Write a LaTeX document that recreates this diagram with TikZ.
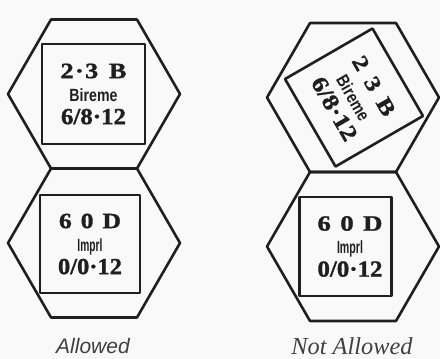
\documentclass[tikz,border=0pt]{standalone}
\usepackage{fontspec}
\usetikzlibrary{shapes.geometric}
\newfontfamily\serifface{Liberation Serif}[BoldFeatures={FakeBold=1.2}]
\newfontfamily\sansface{Liberation Sans}
\definecolor{ink}{gray}{0.12}
\definecolor{labelink}{gray}{0.25}
\definecolor{paper}{gray}{0.975}
\newcommand\numf{\serifface\bfseries\fontsize{20}{22}\selectfont}
\newcommand\namef{\sansface\bfseries\fontsize{16}{18}\selectfont}
\newcommand\ctrtext[6]{\vbox{\lineskiplimit=-100pt\baselineskip=23pt\halign{\hfil##\hfil\cr\resizebox{#2}{14.5pt}{\numf #1}\cr\resizebox{#4}{12.8pt}{\namef #3}\cr\resizebox{#6}{15.3pt}{\numf #5}\cr}}}
\tikzset{
  hexcell/.style={draw=ink, line width=2.6pt, regular polygon, regular polygon sides=6,
    minimum size=172pt, inner sep=0pt, outer sep=0pt},
  counter/.style={draw=ink, line width=2.6pt, rectangle, inner sep=0pt, text=ink},
  caption/.style={text=labelink, anchor=base, inner sep=0pt}
}
\begin{document}
\begin{tikzpicture}[x=1pt,y=-1pt,line join=round]
\fill[paper] (0,0) rectangle (440,359);
\useasboundingbox (0,0) rectangle (440,359);
% hexes
\node[hexcell] (hexTL) at (94,94) {};
\node[hexcell] (hexBL) at (94,243) {};
\node[hexcell] (hexTR) at (353,97.5) {};
\node[hexcell] (hexBR) at (353,246.5) {};
% counters
\node[counter, minimum width=103pt, minimum height=100pt] (cTL) at (93.5,94)
  {\ctrtext{2\kern1pt·\kern1pt3\hspace{8pt}B}{66pt}{Bireme}{48pt}{6/8·12}{65pt}};
\node[counter, minimum width=100pt, minimum height=98pt] (cBL) at (90,244)
  {\ctrtext{6\hspace{7pt}0\hspace{7pt}D}{62pt}{Imprl}{25pt}{0/0·12}{64pt}};
\node[counter, rotate=-60, minimum width=101pt, minimum height=101pt] (cTR) at (354,97.5)
  {\ctrtext{2\hspace{8pt}3\hspace{8pt}B}{66pt}{Bireme}{49pt}{6/8·12}{70pt}};
\node[counter, minimum width=92pt, minimum height=99pt] (cBR) at (345.5,246.5)
  {\hspace*{9pt}\ctrtext{6\hspace{7pt}0\hspace{7pt}D}{65pt}{Imprl}{26pt}{0/0·12}{65pt}};
% captions
\node[caption, font=\sansface\itshape\fontsize{21}{24}\selectfont] (lblA) at (93,353) {Allowed};
\node[caption, font=\serifface\itshape\fontsize{22}{24}\selectfont] (lblNA) at (352,354) {\resizebox{121pt}{!}{Not Allowed}};
\end{tikzpicture}
\end{document}
